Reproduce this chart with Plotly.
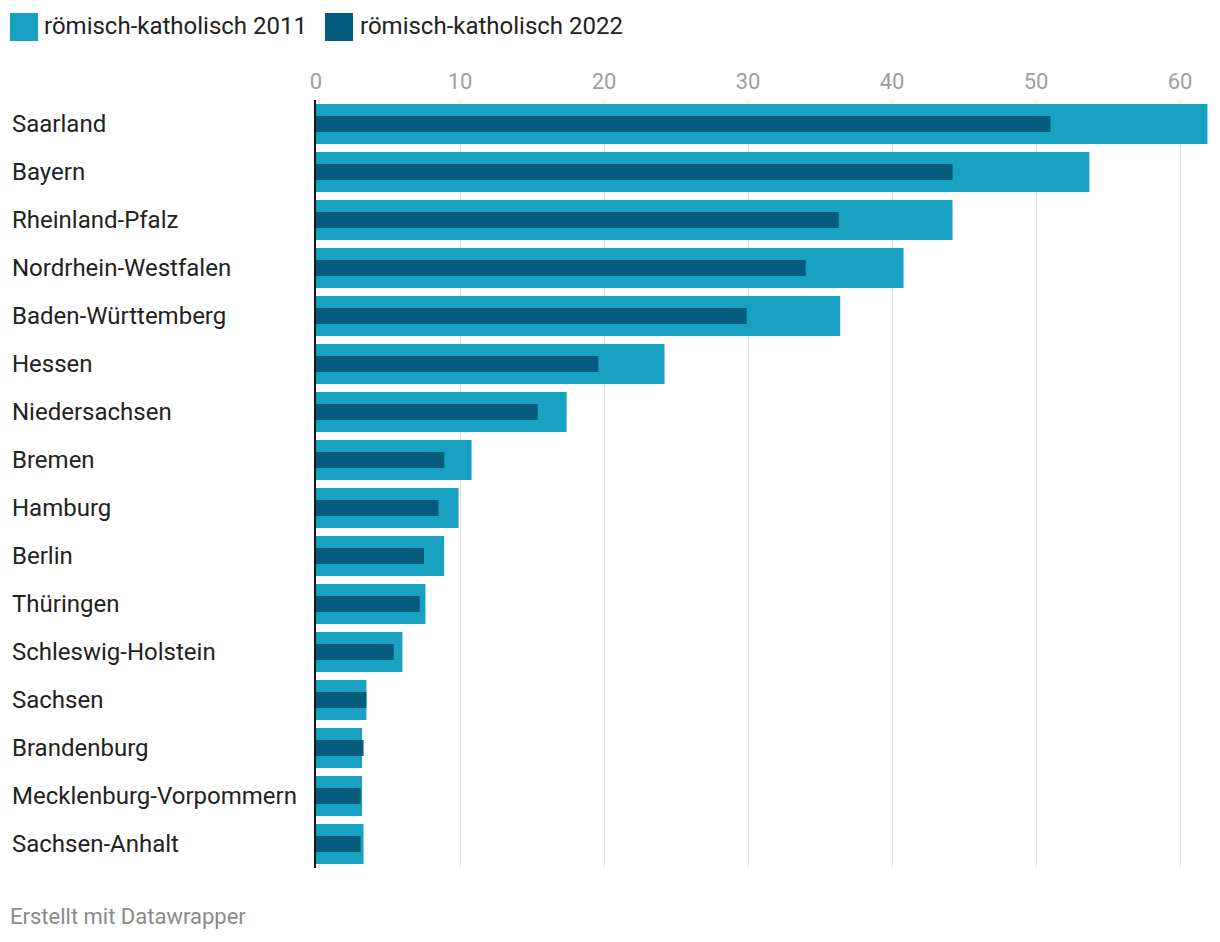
import plotly.graph_objects as go

states = ["Saarland", "Bayern", "Rheinland-Pfalz", "Nordrhein-Westfalen", "Baden-Württemberg",
          "Hessen", "Niedersachsen", "Bremen", "Hamburg", "Berlin", "Thüringen",
          "Schleswig-Holstein", "Sachsen", "Brandenburg", "Mecklenburg-Vorpommern", "Sachsen-Anhalt"]
rk_2011 = [61.9, 53.7, 44.2, 40.8, 36.4, 24.2, 17.4, 10.8, 9.9, 8.9, 7.6, 6.0, 3.5, 3.2, 3.2, 3.3]
rk_2022 = [51.0, 44.2, 36.3, 34.0, 29.9, 19.6, 15.4, 8.9, 8.5, 7.5, 7.2, 5.4, 3.5, 3.3, 3.1, 3.1]
series_names = ["römisch-katholisch 2011", "römisch-katholisch 2022"]
x_ticks = [0, 10, 20, 30, 40, 50, 60]

C_LIGHT = "#18a1c1"
C_DARK = "#035b7b"
FONT = "Roboto"

# page has an 8px body margin; figure sized to fit inside the 1220x942 window
OFF = 8
W, H = 1204, 926
ML, MR, MT, MB = 316 - OFF, W - (1208 - OFF), 100 - OFF, H - (868 - OFF)
plot_w = W - ML - MR
ph = H - MT - MB


def px_x(x):
    return (x - OFF - ML) / plot_w


def px_y(y):
    return 1 - (y - OFF - MT) / ph


fig = go.Figure()
fig.add_trace(go.Bar(y=states, x=rk_2011, orientation="h", name=series_names[0],
                     marker=dict(color=C_LIGHT, line=dict(width=0)), width=0.833))
fig.add_trace(go.Bar(y=states, x=rk_2022, orientation="h", name=series_names[1],
                     marker=dict(color=C_DARK, line=dict(width=0)), width=0.333))

annotations = []
for s in states:
    annotations.append(dict(text=s, x=px_x(10), xref="paper", y=s, yref="y",
                            xanchor="left", yanchor="middle", showarrow=False,
                            font=dict(family=FONT, size=24, color="#222222")))

# footer
annotations.append(dict(text="Erstellt mit Datawrapper", x=px_x(8), xref="paper",
                        y=px_y(916), yref="paper",
                        xanchor="left", yanchor="middle", showarrow=False,
                        font=dict(family=FONT, size=22, color="#8a8a8a")))

# custom legend
shapes = []
legend_items = [(10, 42, C_LIGHT, series_names[0]), (325, 358, C_DARK, series_names[1])]
for sx, tx, col, name in legend_items:
    shapes.append(dict(type="rect", xref="paper", yref="paper",
                       x0=px_x(sx), x1=px_x(sx + 28), y0=px_y(41), y1=px_y(13),
                       fillcolor=col, line=dict(width=0)))
    annotations.append(dict(text=name, x=px_x(tx), xref="paper", y=px_y(26), yref="paper",
                            xanchor="left", yanchor="middle", showarrow=False,
                            font=dict(family=FONT, size=24, color="#222222")))

fig.update_layout(
    width=W, height=H,
    margin=dict(l=ML, r=MR, t=MT, b=MB),
    paper_bgcolor="white", plot_bgcolor="white",
    barmode="overlay",
    showlegend=False,
    annotations=annotations,
    shapes=shapes,
    font=dict(family=FONT),
    xaxis=dict(range=[0, 61.94], side="top", tickvals=x_ticks, ticktext=[str(t) for t in x_ticks],
               showgrid=True, gridcolor="#e2e2e2", gridwidth=1, zeroline=False,
               tickfont=dict(family=FONT, size=22, color="#9e9e9e"), ticks="",
               ticklabelstandoff=6, showline=False, fixedrange=True),
    yaxis=dict(categoryorder="array", categoryarray=states, autorange="reversed",
               showticklabels=False, showgrid=False, zeroline=False,
               showline=True, linecolor="#1a1a1a", linewidth=2, layer="above traces", ticks=""),
)

fig.write_html("out.html")
